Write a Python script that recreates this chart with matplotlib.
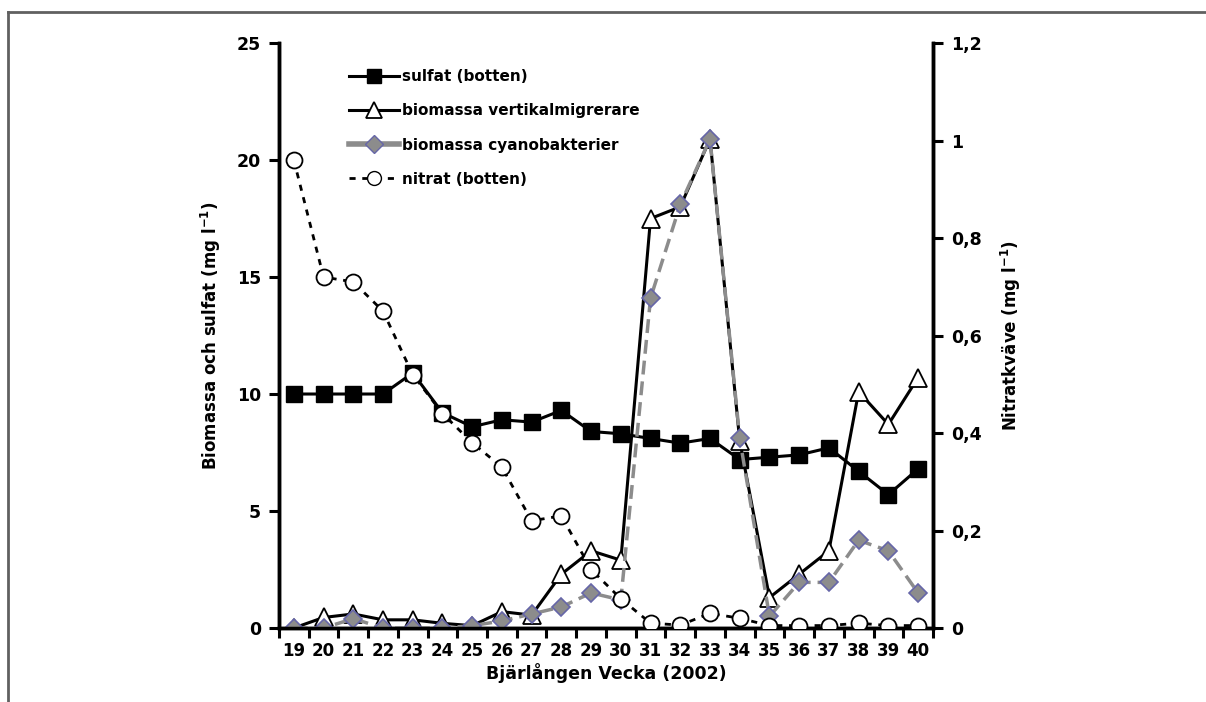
import matplotlib
matplotlib.use("Agg")
import matplotlib.pyplot as plt
from matplotlib.lines import Line2D
from matplotlib.ticker import FixedLocator, FuncFormatter

weeks = list(range(19, 41))
sulfat = [10.0, 10.0, 10.0, 10.0, 10.9, 9.2, 8.6, 8.9, 8.8, 9.3, 8.4, 8.3,
          8.1, 7.9, 8.1, 7.2, 7.3, 7.4, 7.7, 6.7, 5.7, 6.8]
vertikal = [0.0, 0.45, 0.6, 0.35, 0.35, 0.2, 0.1, 0.7, 0.55, 2.3, 3.3, 2.9,
            17.5, 18.0, 20.9, 8.0, 1.3, 2.3, 3.3, 10.1, 8.7, 10.7]
cyano = [0.0, 0.0, 0.4, 0.0, 0.0, 0.0, 0.1, 0.3, 0.6, 0.9, 1.5, 1.2,
         14.1, 18.1, 20.9, 8.1, 0.5, 1.95, 1.95, 3.75, 3.3, 1.5]
nitrat = [0.96, 0.72, 0.71, 0.65, 0.52, 0.44, 0.38, 0.33, 0.22, 0.23, 0.12, 0.06,
          0.01, 0.006, 0.03, 0.02, 0.005, 0.005, 0.005, 0.01, 0.005, 0.005]

plt.rcParams["font.family"] = "DejaVu Sans"
plt.rcParams["font.weight"] = "bold"

fig = plt.figure(figsize=(12.06, 7.02), dpi=100)
ax = fig.add_axes([0.2313, 0.1054, 0.5423, 0.8333])
ax2 = ax.twinx()

# frame around the picture (top and left only)
fig.add_artist(Line2D([8 / 1206, 1.0], [1 - 12 / 702] * 2, transform=fig.transFigure,
                      color="#606060", lw=2))
fig.add_artist(Line2D([8 / 1206] * 2, [0, 1 - 12 / 702], transform=fig.transFigure,
                      color="#606060", lw=2))

ax.plot(weeks, sulfat, "-", color="black", lw=2.2, marker="s", ms=11,
        mfc="black", mec="black", zorder=3)
ax.plot(weeks, vertikal, "-", color="black", lw=2.2, marker="^", ms=12.5,
        mfc="white", mec="black", mew=1.3, zorder=4)
ax.plot(weeks, cyano, color="#8c8c8c", lw=2.5, dashes=(4, 2), marker="D", ms=9.5,
        mfc="#8c8c8c", mec="#6666a8", mew=1.2, zorder=5)
ax2.plot(weeks, nitrat, color="black", lw=2, dashes=(2.2, 2.4), marker="o", ms=11.5,
         mfc="white", mec="black", mew=1.3, zorder=6)

ax.set_xlim(18.5, 40.5)
ax.set_ylim(0, 25)
ax2.set_ylim(0, 1.2)
ax.set_yticks([0, 5, 10, 15, 20, 25])
ax2.set_yticks([0, 0.2, 0.4, 0.6, 0.8, 1.0, 1.2])
ax2.yaxis.set_major_formatter(FuncFormatter(lambda v, p: f"{v:g}".replace(".", ",")))

ax.set_xticks(weeks)
ax.set_xticklabels([str(w) for w in weeks])
ax.xaxis.set_minor_locator(FixedLocator([w - 0.5 for w in weeks] + [40.5]))
ax.tick_params(axis="x", which="major", length=0, pad=10, labelsize=12)
ax.tick_params(axis="x", which="minor", length=7, width=2.2, direction="out")
ax.tick_params(axis="y", length=7, width=2.2, direction="out", labelsize=12.5, pad=6)
ax2.tick_params(axis="y", length=7, width=2.2, direction="out", labelsize=12.5, pad=6)

for a in (ax, ax2):
    a.spines["top"].set_visible(False)
    for s in ("left", "right", "bottom"):
        a.spines[s].set_linewidth(2.5)

ax.set_xlabel("Bjärlången Vecka (2002)", fontsize=12.5, fontweight="bold", labelpad=2)
ax.set_ylabel("Biomassa och sulfat (mg l$^{\\mathbf{-1}}$)", fontsize=12,
              fontweight="bold", labelpad=10)
ax2.set_ylabel("Nitratkväve (mg l$^{\\mathbf{-1}}$)", fontsize=12,
               fontweight="bold", labelpad=12)

handles = [
    Line2D([], [], color="black", lw=2.2, marker="s", ms=10, mfc="black"),
    Line2D([], [], color="black", lw=2.2, marker="^", ms=11, mfc="white", mew=1.3),
    Line2D([], [], color="#8c8c8c", lw=4, marker="D", ms=9, mfc="#8c8c8c", mec="#6666a8"),
    Line2D([], [], color="black", lw=2, dashes=(2.2, 2.4), marker="o", ms=10, mfc="white"),
]
labels = ["sulfat (botten)", "biomassa vertikalmigrerare",
          "biomassa cyanobakterier", "nitrat (botten)"]
ax.legend(handles, labels, loc="upper left", bbox_to_anchor=(0.095, 0.968),
          frameon=False, handlelength=3.3, handletextpad=0.2,
          labelspacing=1.25, borderpad=0, prop={"weight": "bold", "size": 11})

fig.savefig("out.png", dpi=100)
